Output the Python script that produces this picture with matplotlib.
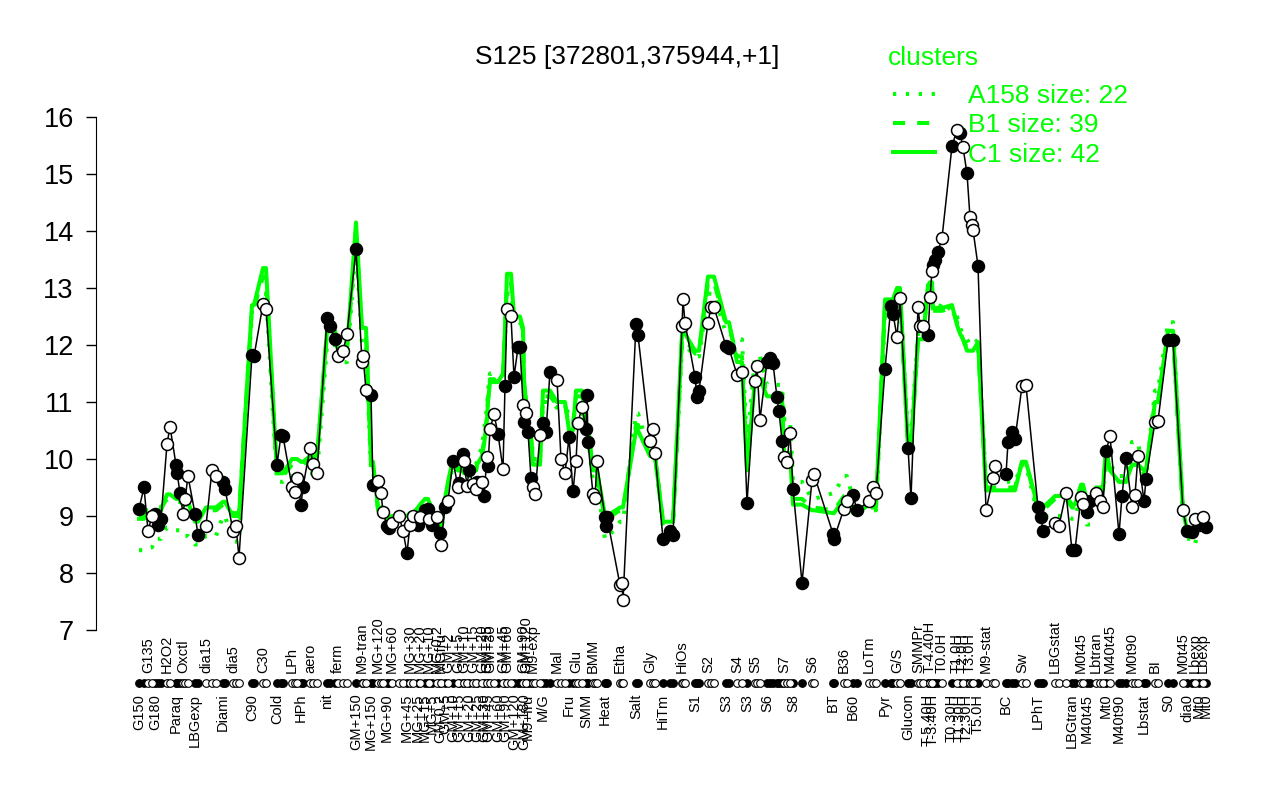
import matplotlib
matplotlib.use("Agg")
import matplotlib.pyplot as plt
import matplotlib.transforms as mtransforms
from matplotlib.lines import Line2D

plt.rcParams['font.family'] = ['Liberation Sans', 'DejaVu Sans']

# condition groups, in plotting order (filled / open alternate)
labels = ["G150", "G135", "G180", "H2O2", "Paraq", "Oxctl", "LBGexp", "dia15", "Diami", "dia5",
          "C90", "C30", "Cold", "LPh", "HPh", "aero", "nit", "ferm", "GM+150", "M9-tran",
          "MG+150", "MG+120", "MG+90", "MG+60", "MG+45", "MG+30", "MG+25", "MG+20", "MG+15", "MG+10",
          "MG+5", "MG-0.2", "GM-0.2", "MGfru", "GM+5", "GM+2", "GM+10", "GM+5", "GM+15", "GM+10",
          "GM+20", "GM+15", "GM+25", "GM+20", "GM+30", "GM+25", "GM+45", "GM+30", "GM+60", "GM+45",
          "GM+90", "GM+60", "GM+120", "GM+90", "GM+180", "GM+120", "M9+fru", "M9-exp", "M/G", "Mal",
          "Fru", "Glu", "SMM", "BMM", "Heat", "Etha", "Salt", "Gly", "HiTm", "HiOs",
          "S1", "S2", "S3", "S4", "S3", "S5", "S6", "S7", "S8", "S6",
          "BT", "B36", "B60", "LoTm", "Pyr", "G/S", "Glucon", "SMMPr", "T-5.40H", "T-4.40H",
          "T-3.40H", "T0.0H", "T0.30H", "T1.0H", "T1.30H", "T2.0H", "T2.30H", "T3.0H", "T5.0H", "M9-stat",
          "BC", "Sw", "LPhT", "LBGstat", "LBGtran", "M0t45", "M40t45", "Lbtran", "Mt0", "M40t45",
          "M40t90", "M0t90", "Lbstat", "BI", "S0", "M0t45", "dia0", "Lbexp", "Mt0", "Lbexp",
          "Mt0"]

# sample positions of each point within a group
pos = [[3, 8], [12, 16], [19, 22, 25], [31, 34], [40, 41, 44], [47, 49, 52], [59, 62], [70, 76, 80],
       [87, 89], [97, 100, 103], [116, 118], [127, 130], [141, 145, 147], [156, 159, 161], [165, 167],
       [174, 177, 181], [191, 194, 199], [202, 207, 211], [220], [226, 227, 230], [235, 237],
       [242, 245, 247], [251, 253], [256, 263, 267], [271], [274, 277], [282], [284], [289, 292], [293],
       [296], [301], [304], [305], [309], [312], [317], [322], [323, 327], [328, 331],
       [333], [337, 340], [341], [346], [348], [351], [352], [354, 358], [362], [367],
       [369], [371, 375], [378, 382, 384], [387], [388], [390], [392, 395], [397, 399, 404],
       [407, 410, 414], [421, 425, 429], [433, 437], [440, 442, 446], [450, 451, 452], [457, 459, 461],
       [469, 470, 471], [484, 486, 487], [500, 502], [514, 517, 519], [527, 534, 537], [546, 547, 549],
       [559, 561, 563], [572, 575, 578], [590, 593], [601, 606], [611], [619, 621, 624],
       [631, 634, 637, 641, 643, 646], [648, 651, 654], [657, 666], [676, 678],
       [697, 698], [708, 711], [717, 721], [733, 737, 740], [749, 755, 757], [761, 764], [772, 775],
       [782, 784, 787], [792], [794, 796], [797, 799, 802], [806], [816], [821], [824], [827], [831],
       [834, 836, 837], [842], [850, 857, 859], [870, 872, 876, 879], [886, 890], [902, 905, 907],
       [919, 923, 930], [936, 939], [945, 947], [951, 954], [960, 964, 967], [970], [974],
       [983, 986, 990], [996, 999, 1002], [1008, 1010], [1019, 1022], [1032, 1037], [1047],
       [1051, 1056], [1059], [1063], [1067], [1070]]

vals = [[9.13, 9.50], [8.74, 9.00], [9.04, 8.85, 8.95], [10.26, 10.57], [9.90, 9.76, 9.41],
        [9.04, 9.29, 9.70], [9.04, 8.66], [8.83, 9.81, 9.70], [9.60, 9.48], [8.74, 8.82, 8.27],
        [11.83, 11.80], [12.72, 12.64], [9.90, 10.42, 10.40], [9.51, 9.42, 9.67], [9.20, 9.51],
        [10.20, 9.92, 9.76], [12.47, 12.33, 12.11], [11.80, 11.89, 12.19], [13.68], [11.70, 11.81, 11.21],
        [11.13, 9.54], [9.62, 9.41, 9.07], [8.82, 8.79], [8.88, 9.00, 8.74], [8.35], [8.85, 9.00],
        [8.85], [8.98], [9.10, 9.13], [8.94], [8.85], [8.98], [8.70], [8.50], [9.16], [9.27], [9.96],
        [9.51], [9.58, 10.08], [9.96, 9.52], [9.81], [9.57, 9.48], [9.60], [9.60], [9.35], [10.04],
        [9.87], [10.52, 10.79], [10.44], [9.82], [11.28], [12.63, 12.50], [11.44, 11.96, 11.96],
        [10.95], [10.65], [10.81], [10.48, 9.67], [9.51, 9.38, 10.42], [10.64, 10.48, 11.53],
        [11.39, 10.00, 9.75], [10.38, 9.43], [9.96, 10.63, 10.92], [10.52, 11.13, 10.29],
        [9.38, 9.32, 9.96], [8.98, 8.82, 8.98], [7.79, 7.82, 7.52], [12.36, 12.17], [10.32, 10.52, 10.10],
        [8.60, 8.74, 8.66], [12.33, 12.80, 12.39], [11.44, 11.09, 11.20], [12.39, 12.67, 12.66],
        [11.98, 11.94], [11.48, 11.53], [9.23], [11.36, 11.63, 10.69],
        [11.71, 11.77, 11.68, 11.08, 10.84, 10.32], [10.04, 9.95, 10.46], [9.48, 7.83], [9.63, 9.73],
        [8.69, 8.60], [9.13, 9.26], [9.37, 9.10], [9.26, 9.51, 9.40], [11.58, 12.69, 12.55],
        [12.14, 12.82], [10.20, 9.31], [12.67, 12.33, 12.34], [12.17], [12.84, 13.30],
        [13.41, 13.49, 13.64], [13.88], [15.49], [15.77], [15.72], [15.47], [15.01], [14.24, 14.11, 14.02],
        [13.39], [9.10, 9.67, 9.87], [9.73, 10.29, 10.48, 10.35], [11.28, 11.29], [9.16, 8.98, 8.74],
        [8.88, 8.83, 9.40], [8.40, 8.40], [9.33, 9.21], [9.07, 9.26], [9.40, 9.27, 9.16], [10.14],
        [10.40], [8.68, 9.35, 10.02], [9.16, 9.37, 10.06], [9.26, 9.65], [10.65, 10.67], [12.08, 12.08],
        [9.10], [8.74, 8.72], [8.94], [8.85], [8.98], [8.81]]

# cluster profiles, one value per group
c1 = [8.95, 9.05, 9.1, 9.38, 9.3, 9.25, 8.9, 9.15, 9.25, 9.0,
      12.7, 13.35, 9.75, 10.0, 9.95, 10.05, 12.25, 11.9, 14.15, 12.3,
      9.95, 9.15, 8.95, 9.0, 9.0, 9.05, 9.15, 9.2, 9.3, 9.25,
      9.1, 8.95, 8.85, 8.8, 9.3, 9.6, 10.0, 9.8, 9.85, 9.75,
      9.7, 9.8, 9.9, 10.05, 10.25, 10.7, 11.0, 11.35, 11.35, 11.5,
      12.3, 13.25, 12.5, 12.3, 11.4, 11.0, 10.4, 9.9, 11.2, 11.0,
      10.5, 11.2, 10.6, 9.8, 9.0, 9.15, 10.5, 10.05, 8.9, 12.2,
      11.9, 13.2, 12.4, 11.7, 9.8, 11.4, 11.1, 10.1, 9.2, 9.1,
      9.05, 9.3, 9.05, 9.2, 12.8, 13.0, 10.2, 12.1, 13.05, 13.1,
      12.65, 12.65, 12.7, 12.35, 12.2, 12.1, 11.9, 11.9, 12.05, 9.45,
      9.45, 9.95, 9.15, 9.35, 9.2, 9.55, 9.25, 9.5, 10.2, 9.8,
      9.6, 9.9, 9.8, 11.0, 12.25, 9.1, 8.75, 8.85, 8.9, 8.95,
      8.9]
b1 = [9.0, 9.1, 9.15, 9.3, 9.25, 9.2, 8.95, 9.1, 9.2, 9.05,
      12.65, 13.2, 9.7, 9.9, 9.9, 10.0, 12.2, 11.85, 14.0, 12.2,
      9.9, 9.1, 8.95, 9.0, 9.0, 9.05, 9.1, 9.2, 9.25, 9.25,
      9.1, 8.95, 8.85, 8.8, 9.25, 9.55, 9.95, 9.8, 9.8, 9.75,
      9.7, 9.8, 9.9, 10.1, 10.3, 10.75, 11.05, 11.4, 11.3, 11.45,
      12.2, 13.1, 12.45, 12.25, 11.35, 11.0, 10.4, 9.95, 11.1, 10.95,
      10.6, 11.1, 10.5, 9.7, 8.95, 9.1, 10.6, 10.05, 8.9, 12.1,
      11.85, 13.1, 12.35, 11.8, 9.9, 11.5, 11.15, 10.3, 9.3, 9.15,
      9.1, 9.35, 9.1, 9.15, 12.7, 12.9, 10.2, 12.1, 13.0, 13.0,
      12.6, 12.6, 12.65, 12.4, 12.25, 12.1, 11.95, 11.9, 12.0, 9.5,
      9.5, 9.95, 9.1, 9.3, 9.15, 9.5, 9.2, 9.45, 10.1, 9.8,
      9.6, 9.9, 9.75, 11.0, 12.2, 9.05, 8.75, 8.8, 8.9, 8.9,
      8.9]
a158 = [8.4, 8.45, 8.6, 8.8, 8.75, 8.65, 8.5, 8.65, 9.0, 8.55,
        12.6, 12.9, 9.6, 9.7, 9.6, 9.75, 12.0, 11.7, 13.8, 12.0,
        9.8, 9.1, 8.9, 8.95, 8.95, 9.0, 9.1, 9.15, 9.2, 9.2,
        9.05, 8.9, 8.75, 8.7, 9.2, 9.5, 9.9, 9.75, 9.8, 9.7,
        9.75, 9.85, 10.0, 10.2, 10.5, 10.9, 11.2, 11.5, 11.4, 11.4,
        12.1, 12.9, 12.4, 12.2, 11.3, 11.0, 10.5, 10.0, 11.0, 10.9,
        10.8, 10.9, 10.4, 9.6, 8.6, 8.9, 10.8, 10.1, 8.8, 12.0,
        11.8, 12.9, 12.2, 12.1, 10.2, 11.8, 11.3, 10.7, 9.6, 9.3,
        9.4, 9.7, 9.3, 9.1, 12.6, 12.9, 10.4, 12.2, 12.9, 12.9,
        12.6, 12.75, 12.6, 12.5, 12.3, 12.2, 12.1, 12.0, 12.1, 9.6,
        9.6, 9.9, 9.0, 9.0, 8.95, 9.4, 8.85, 9.4, 9.9, 9.9,
        9.7, 10.3, 9.7, 11.2, 12.4, 9.0, 8.6, 8.5, 8.8, 8.9,
        8.85]

GREEN = "#00ff00"

fig = plt.figure(figsize=(12.8, 8), dpi=100)
ax = fig.add_axes([96 / 1280, 150 / 800, 1153 / 1280, 553 / 800])

xs, ys, fill, gc1, gb1, ga = [], [], [], [], [], []
for g, (p, v) in enumerate(zip(pos, vals)):
    for xi, yi in zip(p, v):
        xs.append(xi)
        ys.append(yi)
        fill.append(g % 2 == 0)
        gc1.append(c1[g])
        gb1.append(b1[g])
        ga.append(a158[g])

ax.plot(xs, ga, color=GREEN, lw=2.9, ls=(0, (0.8, 2.4)), zorder=1)
ax.plot(xs, gb1, color=GREEN, lw=2.9, ls=(0, (3, 3)), zorder=1)
ax.plot(xs, gc1, color=GREEN, lw=2.9, zorder=1)

ax.plot(xs, ys, color="black", lw=1.1, zorder=2)
fx = [x for x, f in zip(xs, fill) if f]
fy = [y for y, f in zip(ys, fill) if f]
ox = [x for x, f in zip(xs, fill) if not f]
oy = [y for y, f in zip(ys, fill) if not f]
ax.plot(fx, fy, "o", ms=8.6, mfc="black", mec="black", mew=1.1, zorder=3)
ax.plot(ox, oy, "o", ms=8.6, mfc="white", mec="black", mew=1.1, zorder=3)

# marker row and condition labels under the plot
trans = mtransforms.blended_transform_factory(ax.transData, ax.transAxes)
ax.plot(fx, [-0.06] * len(fx), "o", ms=5.5, mfc="black", mec="black", mew=0.8,
        transform=trans, clip_on=False)
ax.plot(ox, [-0.06] * len(ox), "o", ms=5.5, mfc="white", mec="black", mew=0.8,
        transform=trans, clip_on=False)
for g, lab in enumerate(labels):
    if g % 2 == 0:
        ax.text(pos[g][0], -0.079, lab, rotation=90, ha="center", va="top",
                fontsize=10.5, transform=trans)
    else:
        ax.text(pos[g][0], -0.041, lab, rotation=90, ha="center", va="bottom",
                fontsize=10.5, transform=trans)

ax.set_xlim(-40, 1113)
ax.set_ylim(7 - 20 / 57, 16 + 20 / 57)
ax.set_xticks([])
ax.set_yticks(range(7, 17))
ax.tick_params(axis="y", length=7, width=1, labelsize=19.5, pad=9)
for s in ["top", "right", "bottom"]:
    ax.spines[s].set_visible(False)
ax.spines["left"].set_bounds(7, 16)
ax.patch.set_alpha(0)

fig.text(627 / 1280, 1 - 57 / 800, "S125 [372801,375944,+1]", ha="center", va="center", fontsize=19)

# legend
fig.text(888 / 1280, 1 - 58 / 800, "clusters", ha="left", va="center", fontsize=19, color=GREEN)
handles = [Line2D([], [], color=GREEN, lw=2.9, ls=(0, (0.8, 2.4))),
           Line2D([], [], color=GREEN, lw=2.9, ls=(0, (3, 3))),
           Line2D([], [], color=GREEN, lw=2.9)]
leg = fig.legend(handles, ["A158 size: 22", "B1 size: 39", "C1 size: 42"],
                 loc="upper left", bbox_to_anchor=(893 / 1280, 1 - 84 / 800), frameon=False,
                 fontsize=19, labelcolor=GREEN, handlelength=1.6,
                 handletextpad=1.25, labelspacing=0.2, borderpad=0, borderaxespad=0)

fig.savefig("out.png", dpi=100)
